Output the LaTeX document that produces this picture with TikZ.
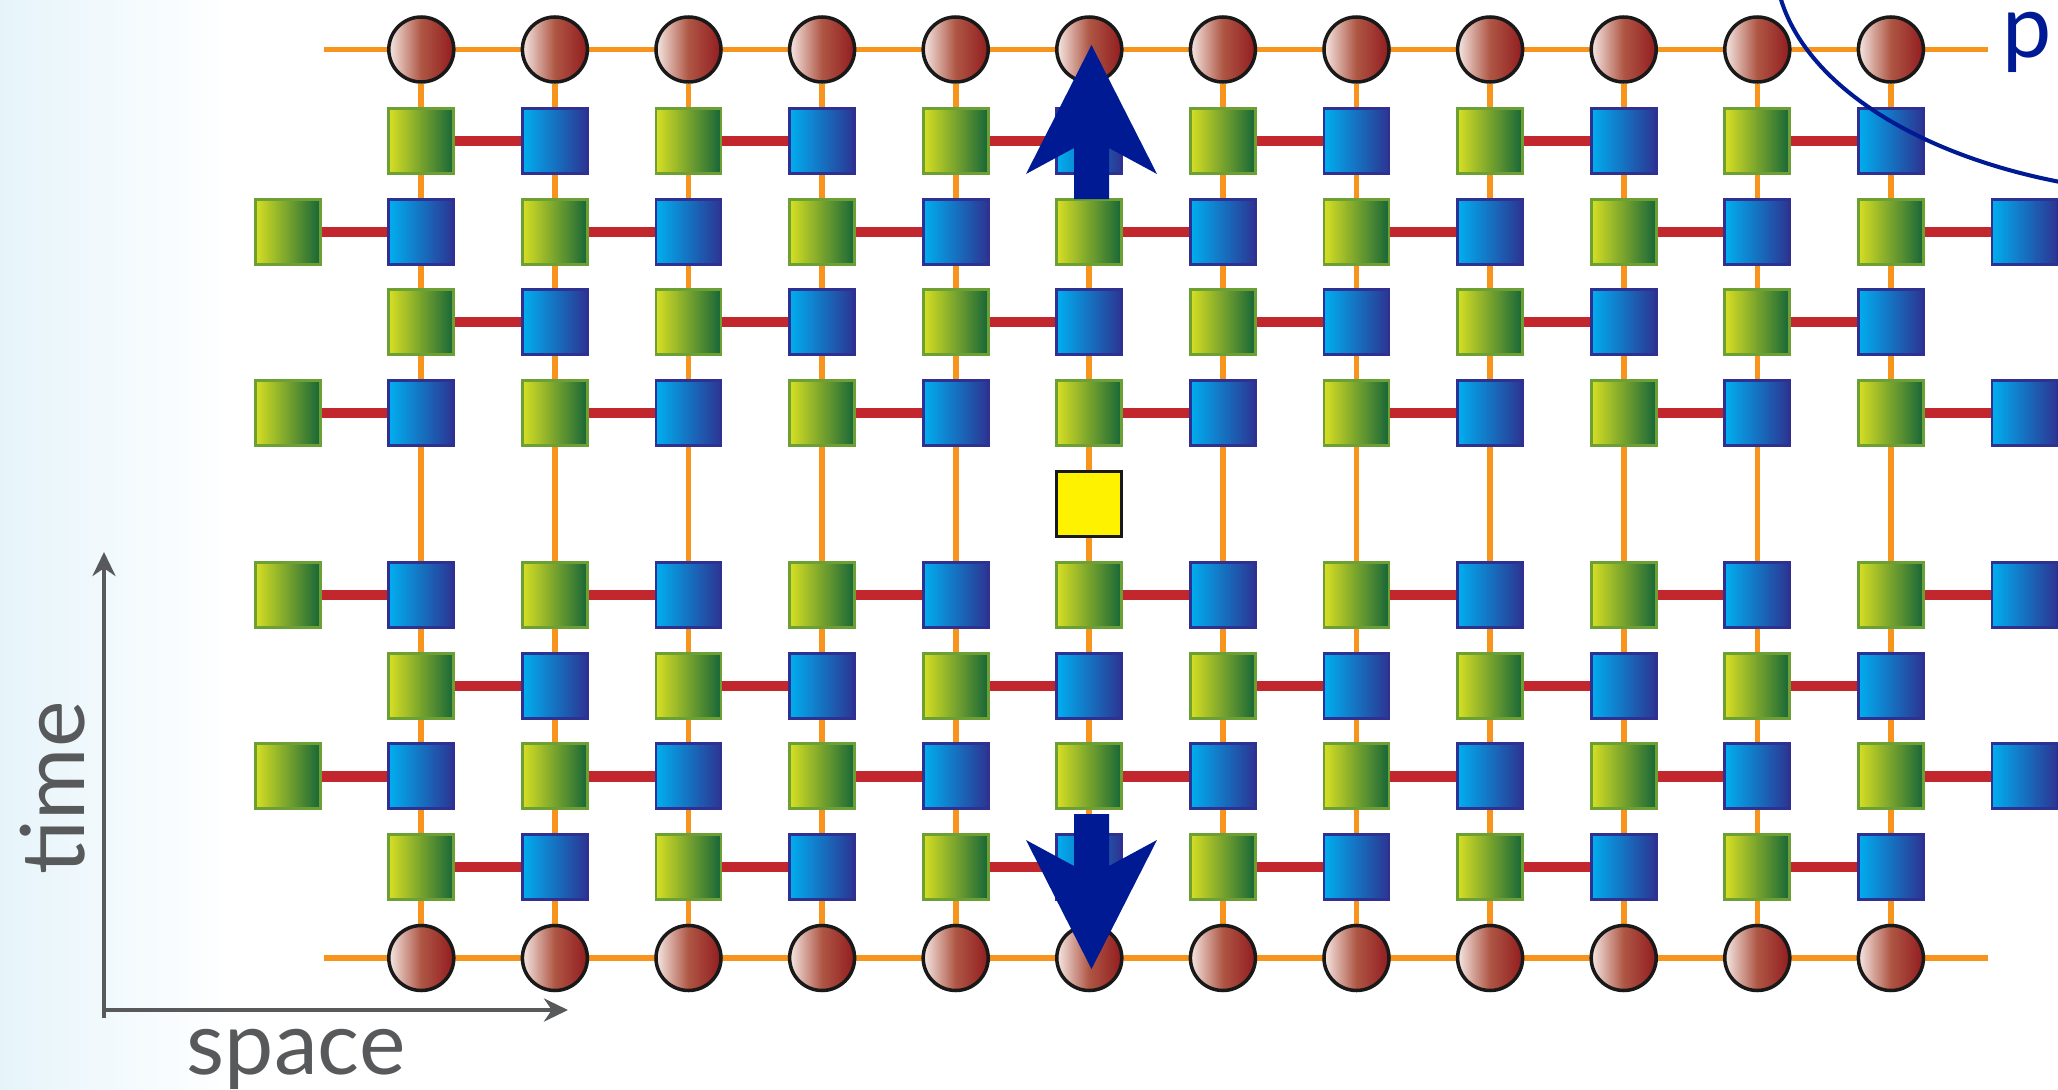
\documentclass[tikz,border=0pt]{standalone}
\usepackage{fontspec}
\setmainfont{Lato}
\usetikzlibrary{arrows.meta}
\pgfdeclarelayer{background}
\pgfsetlayers{background,main}

\definecolor{legorange}{RGB}{247,148,29}
\definecolor{rungred}{RGB}{193,39,45}
\definecolor{greenlight}{RGB}{215,223,35}
\definecolor{greendark}{RGB}{22,102,56}
\definecolor{greenedge}{RGB}{108,160,52}
\definecolor{bluelight}{RGB}{0,174,239}
\definecolor{bluedark}{RGB}{44,52,146}
\definecolor{blueedge}{RGB}{46,49,146}
\definecolor{sitelight}{RGB}{246,232,228}
\definecolor{sitemid}{RGB}{174,86,68}
\definecolor{sitedark}{RGB}{146,28,31}
\definecolor{arrowblue}{RGB}{0,26,148}
\definecolor{axisgray}{RGB}{88,89,91}
\definecolor{probeyellow}{RGB}{255,242,0}
\definecolor{edgetint}{RGB}{230,244,250}

\tikzset{
  gsq/.style={rectangle, minimum size=6.5mm, inner sep=0pt, draw=greenedge, line width=0.8pt,
    left color=greenlight, right color=greendark},
  bsq/.style={rectangle, minimum size=6.5mm, inner sep=0pt, draw=blueedge, line width=0.8pt,
    left color=bluelight, right color=bluedark},
  site/.style={circle, minimum size=6.5mm, inner sep=0pt, draw=black!90, line width=1pt,
    left color=sitelight, right color=sitedark, middle color=sitemid},
  probe/.style={rectangle, minimum size=6.5mm, inner sep=0pt, draw=black!90, line width=0.9pt,
    fill=probeyellow},
  leg/.style={legorange, line width=1.6pt},
  rung/.style={rungred, line width=2.9pt},
  axisline/.style={axisgray, line width=1.25pt, -{Stealth[length=2.4mm, width=2.3mm]}},
  axislabel/.style={axisgray, font=\fontsize{25}{30}\selectfont, inner sep=0pt},
}

\begin{document}
\begin{tikzpicture}[x=0.1mm, y=-0.1mm]
  \useasboundingbox (0,0) rectangle (2058,1090);
  \clip (0,0) rectangle (2058,1090);

  % soft tint on the left edge
  \shade[left color=edgetint, right color=white] (0,0) rectangle (230,1090);

  % sites, top and bottom
  \foreach \c in {1,...,12}{
    \node[site] (top\c) at ({287.7+133.6*\c},49.5) {};
    \node[site] (bot\c) at ({287.7+133.6*\c},958) {};
  }
  \coordinate (topL) at (324,49.5);
  \coordinate (topR) at (1988,49.5);
  \coordinate (botL) at (324,958);
  \coordinate (botR) at (1988,958);

  % rows starting with green on odd columns
  \foreach \r/\y in {1/140.8, 3/322.4, 6/685.6, 8/867.2}{
    \foreach \c in {1,3,...,11}{
      \pgfmathtruncatemacro\d{\c+1}
      \node[gsq] (g\r-\c) at ({287.7+133.6*\c},\y) {};
      \node[bsq] (b\r-\d) at ({287.7+133.6*\d},\y) {};
      \draw[rung] (g\r-\c) -- (b\r-\d);
    }
  }
  % rows starting with green on even columns
  \foreach \r/\y in {2/231.6, 4/413.2, 5/594.8, 7/776.4}{
    \foreach \c in {0,2,...,12}{
      \pgfmathtruncatemacro\d{\c+1}
      \node[gsq] (g\r-\c) at ({287.7+133.6*\c},\y) {};
      \node[bsq] (b\r-\d) at ({287.7+133.6*\d},\y) {};
      \draw[rung] (g\r-\c) -- (b\r-\d);
    }
  }

  % inserted operator
  \node[probe] (probe) at ({287.7+133.6*6},504) {};

  % orange legs behind everything
  \begin{pgfonlayer}{background}
    \foreach \c in {1,...,12}
      \draw[leg] (top\c) -- (bot\c);
    \draw[leg] (topL) -- (topR);
    \draw[leg] (botL) -- (botR);
  \end{pgfonlayer}

  % big arrows
  \coordinate (uptip) at (1091.5,45);
  \coordinate (downtip) at (1091.5,969);
  \fill[arrowblue] (uptip) -- ++(65.5,129) -- ++(-48,-26) -- ++(0,51) -- ++(-35,0)
    -- ++(0,-51) -- ++(-48,26) -- cycle;
  \fill[arrowblue] (downtip) -- ++(65.5,-129) -- ++(-48,26) -- ++(0,-52) -- ++(-35,0)
    -- ++(0,52) -- ++(-48,-26) -- cycle;

  % region boundary
  \draw[arrowblue, line width=1.15pt] (2200,-40) ellipse [x radius=425, y radius=235];
  \node[axislabel, text=arrowblue, anchor=base west] (plabel) at (2002,57) {p};

  % axes
  \coordinate (origin) at (104,1010);
  \coordinate (timetip) at (104,552);
  \coordinate (spacetip) at (568,1010);
  \draw[axisline] ([yshift=-2.2pt]origin) -- (timetip);
  \draw[axisline] (origin) -- (spacetip);
  \node[axislabel, rotate=90, anchor=base] (timelabel) at (84,788) {time};
  \node[axislabel, anchor=base] (spacelabel) at (296,1074) {space};
\end{tikzpicture}
\end{document}
